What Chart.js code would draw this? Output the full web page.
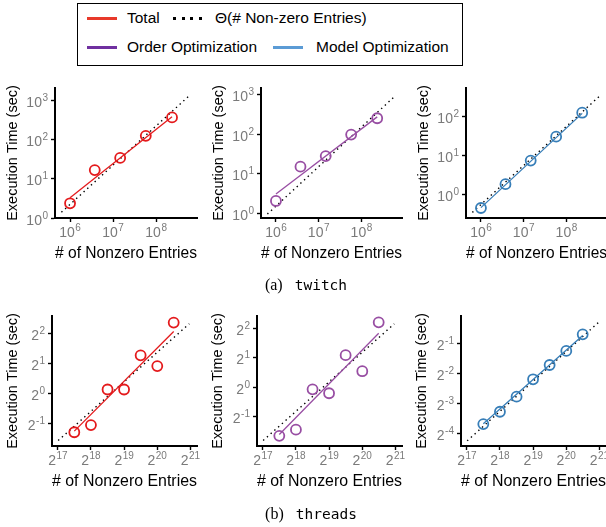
<!DOCTYPE html>
<html><head><meta charset="utf-8">
<script src="https://cdn.jsdelivr.net/npm/chart.js@4.4.1/dist/chart.umd.min.js"></script>
<style>
html,body{margin:0;padding:0;background:#fff;width:606px;height:527px;overflow:hidden;position:relative;font-family:"Liberation Sans",Arial,sans-serif}
canvas{position:absolute}
.box{position:absolute;left:77px;top:3px;width:384px;height:61px;border:1.5px solid #000;box-sizing:content-box}
.sw{position:absolute;height:3px}
.lt{position:absolute;font-size:15.5px;line-height:18px;transform:translateY(-50%);white-space:nowrap;color:#000}
.cap{position:absolute;font-size:14.5px;white-space:nowrap;transform:translate(-50%,-50%);color:#000}
.cap .s{font-family:"Liberation Serif","DejaVu Serif",serif;font-size:16px;margin-right:12px}
.cap .m{font-family:"DejaVu Sans Mono","Liberation Mono",monospace;font-size:14.5px}
</style></head>
<body>
<div class="box"></div>
<div class="sw" style="left:87px;top:16.5px;width:30px;background:#E8392A"></div>
<span class="lt" style="left:127px;top:18px">Total</span>
<div class="sw" style="left:173px;top:16.5px;width:30px;background:repeating-linear-gradient(90deg,#000 0 3px,transparent 3px 8.7px)"></div>
<span class="lt" style="left:215px;top:18px">Θ(# Non-zero Entries)</span>
<div class="sw" style="left:87px;top:45.5px;width:30px;background:#7030A0"></div>
<span class="lt" style="left:127px;top:47px">Order Optimization</span>
<div class="sw" style="left:273px;top:45.5px;width:30px;background:#5B9BD5"></div>
<span class="lt" style="left:316px;top:47px">Model Optimization</span>

<canvas id="p1"></canvas><canvas id="p2"></canvas><canvas id="p3"></canvas>
<canvas id="p4"></canvas><canvas id="p5"></canvas><canvas id="p6"></canvas>

<div class="cap" style="left:306px;top:285px"><span class="s">(a)</span><span class="m">twitch</span></div>
<div class="cap" style="left:311px;top:514px"><span class="s">(b)</span><span class="m">threads</span></div>

<script>
// ---------- data ----------
const twitchNnz      = [1.0e6, 3.75e6, 1.46e7, 5.75e7, 2.34e8];
const twitchTotal    = [2.37, 16.6, 34, 124, 365];
const twitchOrder    = [2.05, 15.1, 28, 98, 254];
const twitchModel    = [0.46, 1.87, 7.5, 30.7, 126];
const twitchFitX     = [1.0e6, 2.34e8];
const twitchFitTotal = [3.3, 378];
const twitchFitOrder = [3.08, 275];
const twitchFitModel = [0.47, 121];
const twitchThetaX     = [6.3e5, 6.3e8];
const twitchThetaTotal = [1.4, 1396];
const twitchThetaOrder = [0.955, 955];
const twitchThetaModel = [0.355, 355];

const threadsNnz      = [1.85e5, 2.62e5, 3.71e5, 5.24e5, 7.41e5, 1.05e6, 1.48e6];
const threadsTotal    = [0.406, 0.48, 1.097, 1.097, 2.43, 1.89, 5.2];
const threadsOrder    = [0.32, 0.37, 0.954, 0.87, 2.13, 1.46, 4.6];
const threadsModel    = [0.0775, 0.103, 0.146, 0.218, 0.303, 0.42, 0.616];
const threadsFitX     = [1.85e5, 1.48e6];
const threadsFitTotal = [0.417, 4.23];
const threadsFitOrder = [0.33, 3.56];
const threadsFitModel = [0.078, 0.60];
const threadsThetaX     = [1.32e5, 2.05e6];
const threadsThetaTotal = [0.335, 5.06];
const threadsThetaOrder = [0.287, 4.44];
const threadsThetaModel = [0.0526, 0.807];

// tick values / labels (base^exponent)
const pow10Ticks   = [1e6, 1e7, 1e8];
const pow10Labels  = ['10^6', '10^7', '10^8'];
const twitchYTicks13  = [1, 10, 100, 1000];
const twitchYLabels13 = ['10^0', '10^1', '10^2', '10^3'];
const twitchYTicks02  = [1, 10, 100];
const twitchYLabels02 = ['10^0', '10^1', '10^2'];
const pow2Ticks    = [131072, 262144, 524288, 1048576, 2097152];
const pow2Labels   = ['2^17', '2^18', '2^19', '2^20', '2^21'];
const threadsYTicksA  = [0.5, 1, 2, 4];
const threadsYLabelsA = ['2^-1', '2^0', '2^1', '2^2'];
const threadsYTicksB  = [0.0625, 0.125, 0.25, 0.5];
const threadsYLabelsB = ['2^-4', '2^-3', '2^-2', '2^-1'];

const RED = '#E41A1C', PURPLE = '#984EA3', BLUE = '#377EB8';
const FONT = '"Liberation Sans", Arial, sans-serif';
const TICK_GRAY = '#7a7a7a';

function pts(xs, ys) { return xs.map((x, i) => ({x: x, y: ys[i]})); }

// draws "base^exp" tick labels with a raised, smaller exponent
const supLabels = {
  id: 'supLabels',
  afterDraw(chart, args, opts) {
    const o = opts.o; if (!o) return;
    const c = chart.ctx;
    const xs = chart.scales.x, ys = chart.scales.y;
    const baseF = '14px ' + FONT, expF = '10px ' + FONT;
    c.save();
    c.fillStyle = TICK_GRAY; c.textAlign = 'left'; c.textBaseline = 'alphabetic';
    const part = (lbl) => {
      const [b, e] = lbl.split('^');
      c.font = baseF; const wb = c.measureText(b).width;
      c.font = expF; const we = c.measureText(e).width;
      return {b, e, wb, we, w: wb + 0.5 + we};
    };
    const draw = (p, x0, by) => {
      c.font = baseF; c.fillText(p.b, x0, by);
      c.font = expF; c.fillText(p.e, x0 + p.wb + 0.5, by - 6);
    };
    o.xTicks.forEach((v, i) => {
      const p = part(o.xLabels[i]);
      draw(p, xs.getPixelForValue(v) - p.w / 2, xs.top + 18.5);
    });
    o.yTicks.forEach((v, i) => {
      const p = part(o.yLabels[i]);
      draw(p, ys.right - 7 - p.w, ys.getPixelForValue(v) + 6.5);
    });
    c.restore();
  }
};

function panel(id, o) {
  const cv = document.getElementById(id);
  const R = 14, padTop = 18, xH = 47;
  const W = o.axisW + o.plotW + R, H = padTop + 130 + xH;
  cv.width = W; cv.height = H;
  cv.style.left = o.left + 'px'; cv.style.top = o.top + 'px';
  cv.style.width = W + 'px'; cv.style.height = H + 'px';
  const titleFontX = {family: FONT, size: 16.5};
  const titleFontY = {family: FONT, size: 14.5};
  new Chart(cv, {
    type: 'scatter',
    data: { datasets: [
      { type: 'line', data: pts(o.thetaX, o.thetaY), borderColor: '#000', borderWidth: 1.4,
        borderDash: [1.4, 3.6], pointRadius: 0, fill: false, tension: 0, order: 3 },
      { type: 'line', data: pts(o.fitX, o.fitY), borderColor: o.color, borderWidth: 1.3,
        pointRadius: 0, fill: false, tension: 0, order: 2 },
      { type: 'scatter', data: pts(o.x, o.y), borderColor: o.color, backgroundColor: 'rgba(0,0,0,0)',
        borderWidth: 1.8, pointRadius: 5, pointHoverRadius: 5, order: 1 }
    ]},
    plugins: [supLabels],
    options: {
      responsive: false, animation: false, events: [],
      layout: { padding: { top: padTop, right: R, left: 0, bottom: 0 } },
      plugins: { legend: { display: false }, tooltip: { enabled: false }, supLabels: { o: o } },
      scales: {
        x: {
          type: 'logarithmic', position: 'bottom', min: o.xMin, max: o.xMax, bounds: 'data',
          afterBuildTicks: s => { s.ticks = o.xTicks.map(v => ({value: v})); },
          afterFit: s => { s.height = xH; },
          ticks: { display: false, callback: (v, i) => o.xLabels[i], autoSkip: false },
          grid: { drawOnChartArea: false, drawTicks: true, tickLength: 4, tickColor: '#000', tickWidth: 1.4 },
          border: { display: true, color: '#000', width: 2 },
          title: { display: true, text: '# of Nonzero Entries', font: titleFontX, color: '#000',
                   padding: { top: 0, bottom: 1.5 } }
        },
        y: {
          type: 'logarithmic', position: 'left', min: o.yMin, max: o.yMax, bounds: 'data',
          afterBuildTicks: s => { s.ticks = o.yTicks.map(v => ({value: v})); },
          afterFit: s => { s.width = o.axisW; },
          ticks: { display: false, callback: (v, i) => o.yLabels[i], autoSkip: false },
          grid: { drawOnChartArea: false, drawTicks: true, tickLength: 4, tickColor: '#000', tickWidth: 1.4 },
          border: { display: true, color: '#000', width: 2 },
          title: { display: true, text: 'Execution Time (sec)', font: titleFontY, color: '#000',
                   padding: { top: 4, bottom: 0 } }
        }
      }
    }
  });
}

const twX = { xMin: 4.47e5, xMax: 8.9e8, xTicks: pow10Ticks, xLabels: pow10Labels };
const thX = { xMin: 1.16e5, xMax: 2.41e6, xTicks: pow2Ticks, xLabels: pow2Labels };

panel('p1', Object.assign({}, twX, { left: 0, top: 70, axisW: 55, plotW: 142, color: RED,
  x: twitchNnz, y: twitchTotal, fitX: twitchFitX, fitY: twitchFitTotal, thetaX: twitchThetaX, thetaY: twitchThetaTotal,
  yMin: 1, yMax: 2050, yTicks: twitchYTicks13, yLabels: twitchYLabels13 }));
panel('p2', Object.assign({}, twX, { left: 206, top: 70, axisW: 55, plotW: 141, color: PURPLE,
  x: twitchNnz, y: twitchOrder, fitX: twitchFitX, fitY: twitchFitOrder, thetaX: twitchThetaX, thetaY: twitchThetaOrder,
  yMin: 0.76, yMax: 1480, yTicks: twitchYTicks13, yLabels: twitchYLabels13 }));
panel('p3', Object.assign({}, twX, { left: 411, top: 70, axisW: 55, plotW: 141, color: BLUE,
  x: twitchNnz, y: twitchModel, fitX: twitchFitX, fitY: twitchFitModel, thetaX: twitchThetaX, thetaY: twitchThetaModel,
  yMin: 0.255, yMax: 540, yTicks: twitchYTicks02, yLabels: twitchYLabels02 }));
panel('p4', Object.assign({}, thX, { left: 0, top: 298, axisW: 52, plotW: 145, color: RED,
  x: threadsNnz, y: threadsTotal, fitX: threadsFitX, fitY: threadsFitTotal, thetaX: threadsThetaX, thetaY: threadsThetaTotal,
  yMin: 0.295, yMax: 6.06, yTicks: threadsYTicksA, yLabels: threadsYLabelsA }));
panel('p5', Object.assign({}, thX, { left: 205, top: 298, axisW: 52, plotW: 145, color: PURPLE,
  x: threadsNnz, y: threadsOrder, fitX: threadsFitX, fitY: threadsFitOrder, thetaX: threadsThetaX, thetaY: threadsThetaOrder,
  yMin: 0.252, yMax: 5.34, yTicks: threadsYTicksA, yLabels: threadsYLabelsA }));
panel('p6', Object.assign({}, thX, { left: 409, top: 298, axisW: 52, plotW: 145, color: BLUE,
  x: threadsNnz, y: threadsModel, fitX: threadsFitX, fitY: threadsFitModel, thetaX: threadsThetaX, thetaY: threadsThetaModel,
  yMin: 0.0467, yMax: 0.94, yTicks: threadsYTicksB, yLabels: threadsYLabelsB }));
</script>
</body></html>
